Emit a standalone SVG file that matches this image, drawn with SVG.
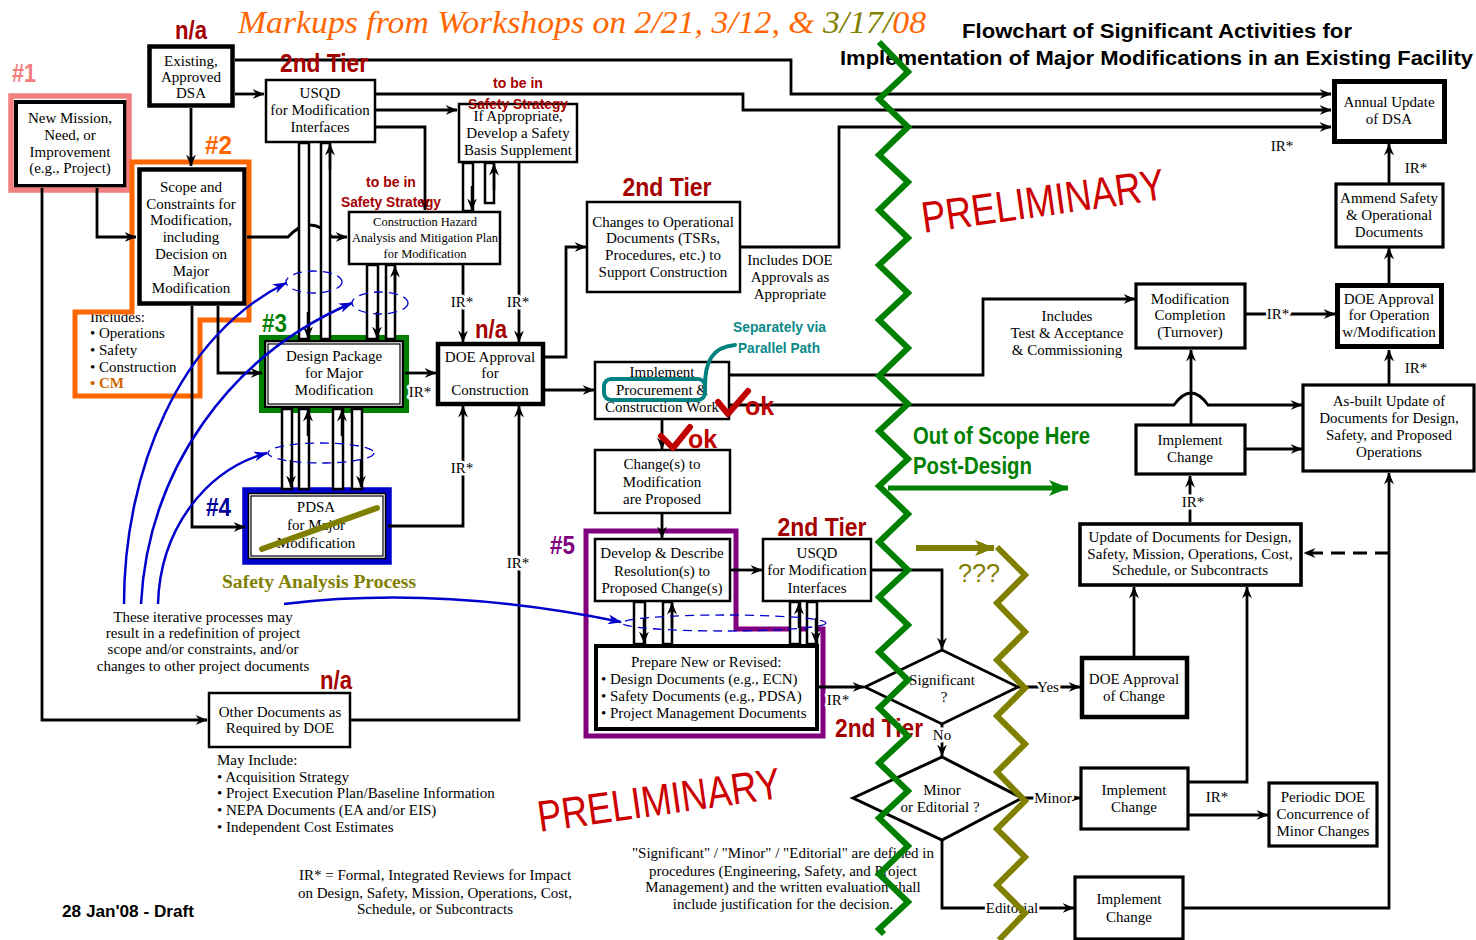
<svg xmlns="http://www.w3.org/2000/svg" width="1476" height="940" viewBox="0 0 1476 940">
<defs>
<style>
.b{fill:#fff;stroke:#000;stroke-width:2.5}
.bm{fill:#fff;stroke:#000;stroke-width:3.2}
.bt{fill:#fff;stroke:#000;stroke-width:4.5}
.t{font-family:"Liberation Serif",serif;font-size:15px;text-anchor:middle;fill:#000}
.tl{font-family:"Liberation Serif",serif;font-size:15px;fill:#000}
.ts{font-family:"Liberation Serif",serif;font-size:12.5px;text-anchor:middle;fill:#000}
.c{fill:none;stroke:#000;stroke-width:2.8}
.lb{font-family:"Liberation Serif",serif;font-size:15px;text-anchor:middle;fill:#000;paint-order:stroke;stroke:#fff;stroke-width:5px;stroke-linejoin:round}
.red{font-family:"Liberation Sans",Arial,sans-serif;font-weight:bold;fill:#a50000;text-anchor:middle}
.dbl{fill:#fff;stroke:#000;stroke-width:2.5}
.blue{fill:none;stroke:#0000cc;stroke-width:2.5}
.ell{fill:none;stroke:#0000cc;stroke-width:1.3;stroke-dasharray:9,6}
.hash{font-family:"Liberation Sans",Arial,sans-serif;font-weight:bold;font-size:26px}
.ok{font-family:"Liberation Sans",Arial,sans-serif;font-weight:bold;font-size:25px;fill:#c00000}
.chk{fill:none;stroke:#c00000;stroke-width:6;stroke-linecap:round;stroke-linejoin:round}
.prelim{font-family:"Liberation Sans",Arial,sans-serif;font-size:44px;fill:#cc0000;text-anchor:middle}
</style>
<marker id="a" viewBox="0 0 12 10" refX="11.5" refY="5" markerWidth="12" markerHeight="10" markerUnits="userSpaceOnUse" orient="auto"><path d="M0,0 L12,5 L0,10 L4,5 Z" fill="#000"/></marker>
<marker id="ab" viewBox="0 0 14 10" refX="13" refY="5" markerWidth="14" markerHeight="10" markerUnits="userSpaceOnUse" orient="auto"><path d="M0,0 L14,5 L0,10 L4,5 Z" fill="#0000cc"/></marker>
<marker id="ag" viewBox="0 0 20 16" refX="19" refY="8" markerWidth="20" markerHeight="16" markerUnits="userSpaceOnUse" orient="auto"><path d="M0,0 L20,8 L0,16 L5,8 Z" fill="#008000"/></marker>
<marker id="ao" viewBox="0 0 20 16" refX="19" refY="8" markerWidth="20" markerHeight="16" markerUnits="userSpaceOnUse" orient="auto"><path d="M0,0 L20,8 L0,16 L5,8 Z" fill="#808000"/></marker>
</defs>
<rect width="1476" height="940" fill="#fff"/>

<!-- Titles -->
<g id="titles">
<text x="238" y="33" font-family="Liberation Serif,serif" font-style="italic" font-size="31" fill="#ff6600" textLength="688" lengthAdjust="spacingAndGlyphs">Markups from Workshops on 2/21, 3/12, &amp; <tspan fill="#808000">3/17/</tspan>08</text>
<text x="962" y="38" font-family="Liberation Sans,Arial,sans-serif" font-weight="bold" font-size="20" textLength="390" lengthAdjust="spacingAndGlyphs">Flowchart of Significant Activities for</text>
<text x="840" y="65" font-family="Liberation Sans,Arial,sans-serif" font-weight="bold" font-size="20" textLength="633" lengthAdjust="spacingAndGlyphs">Implementation of Major Modifications in an Existing Facility</text>
<text x="62" y="917" font-family="Liberation Sans,Arial,sans-serif" font-weight="bold" font-size="16" textLength="132" lengthAdjust="spacingAndGlyphs">28 Jan'08 - Draft</text>
</g>

<!-- Nodes -->
<g id="n-existing-dsa"><rect class="bt" x="149.5" y="46.5" width="83" height="59"/><text class="t"><tspan x="191" y="66">Existing,</tspan><tspan x="191" y="82">Approved</tspan><tspan x="191" y="98">DSA</tspan></text></g>
<g id="n-new-mission"><rect class="bt" x="16" y="102" width="109" height="84" style="stroke-width:4"/><text class="t"><tspan x="70" y="123">New Mission,</tspan><tspan x="70" y="140">Need, or</tspan><tspan x="70" y="157">Improvement</tspan><tspan x="70" y="173">(e.g., Project)</tspan></text></g>
<g id="n-usqd-top"><rect class="b" x="266" y="80" width="109" height="62"/><text class="t"><tspan x="320" y="98">USQD</tspan><tspan x="320" y="115">for Modification</tspan><tspan x="320" y="132">Interfaces</tspan></text></g>
<g id="n-scope"><rect class="bt" x="139.5" y="169.5" width="105" height="134"/><text class="t"><tspan x="191" y="192">Scope and</tspan><tspan x="191" y="209">Constraints for</tspan><tspan x="191" y="225">Modification,</tspan><tspan x="191" y="242">including</tspan><tspan x="191" y="259">Decision on</tspan><tspan x="191" y="276">Major</tspan><tspan x="191" y="293">Modification</tspan></text></g>
<g id="n-includes"><text class="tl"><tspan x="90" y="322">Includes:</tspan><tspan x="90" y="338">• Operations</tspan><tspan x="90" y="355">• Safety</tspan><tspan x="90" y="372">• Construction</tspan><tspan x="90" y="388" fill="#cc6600" font-weight="bold">• CM</tspan></text></g>
<g id="n-champ"><rect class="b" x="349" y="212" width="151" height="52"/><text class="ts"><tspan x="425" y="226">Construction Hazard</tspan><tspan x="425" y="242">Analysis and Mitigation Plan</tspan><tspan x="425" y="258">for Modification</tspan></text></g>
<g id="n-safety-supplement"><rect class="b" x="459" y="104" width="118" height="58"/><text class="t"><tspan x="518" y="121">If Appropriate,</tspan><tspan x="518" y="138">Develop a Safety</tspan><tspan x="518" y="155">Basis Supplement</tspan></text></g>
<g id="n-changes-ops"><rect class="b" x="587" y="202" width="153" height="90"/><text class="t"><tspan x="663" y="227">Changes to Operational</tspan><tspan x="663" y="243">Documents (TSRs,</tspan><tspan x="663" y="260">Procedures, etc.) to</tspan><tspan x="663" y="277">Support Construction</tspan></text></g>
<g id="n-design-package"><rect class="b" x="265" y="341" width="138" height="66"/><rect x="268" y="344" width="132" height="60" fill="none" stroke="#000" stroke-width="1.2"/><text class="t"><tspan x="334" y="361">Design Package</tspan><tspan x="334" y="378">for Major</tspan><tspan x="334" y="395">Modification</tspan></text></g>
<g id="n-doe-construction"><rect class="bt" x="438" y="344" width="105" height="60"/><text class="t"><tspan x="490" y="362">DOE Approval</tspan><tspan x="490" y="378">for</tspan><tspan x="490" y="395">Construction</tspan></text></g>
<g id="n-pdsa"><rect class="b" x="248" y="493" width="138" height="66"/><rect x="251" y="496" width="132" height="60" fill="none" stroke="#000" stroke-width="1.2"/><text class="t"><tspan x="316" y="512">PDSA</tspan><tspan x="316" y="530">for Major</tspan><tspan x="316" y="548">Modification</tspan></text></g>
<g id="n-implement-construction"><rect class="b" x="595" y="362" width="134" height="57"/><text class="t"><tspan x="662" y="377">Implement</tspan><tspan x="662" y="395">Procurement &amp;</tspan><tspan x="662" y="412">Construction Work</tspan></text></g>
<g id="n-changes-proposed"><rect class="b" x="595" y="450" width="135" height="63"/><text class="t"><tspan x="662" y="469">Change(s) to</tspan><tspan x="662" y="487">Modification</tspan><tspan x="662" y="504">are Proposed</tspan></text></g>
<g id="n-develop"><rect class="b" x="595" y="539" width="135" height="62"/><text class="t"><tspan x="662" y="558">Develop &amp; Describe</tspan><tspan x="662" y="576">Resolution(s) to</tspan><tspan x="662" y="593">Proposed Change(s)</tspan></text></g>
<g id="n-usqd-lower"><rect class="b" x="763" y="539" width="108" height="62"/><text class="t"><tspan x="817" y="558">USQD</tspan><tspan x="817" y="575">for Modification</tspan><tspan x="817" y="593">Interfaces</tspan></text></g>
<g id="n-prepare"><rect class="bt" x="596" y="646" width="221" height="83" style="stroke-width:4"/><text class="tl"><tspan x="631" y="667">Prepare New or Revised:</tspan><tspan x="601" y="684">• Design Documents (e.g., ECN)</tspan><tspan x="601" y="701">• Safety Documents (e.g., PDSA)</tspan><tspan x="601" y="718">• Project Management Documents</tspan></text></g>
<g id="n-other-docs"><rect class="b" x="209" y="693" width="141" height="54"/><text class="t"><tspan x="280" y="717">Other Documents as</tspan><tspan x="280" y="733">Required by DOE</tspan></text></g>
<g id="n-may-include"><text class="tl"><tspan x="217" y="765">May Include:</tspan><tspan x="217" y="782">• Acquisition Strategy</tspan><tspan x="217" y="798">• Project Execution Plan/Baseline Information</tspan><tspan x="217" y="815">• NEPA Documents (EA and/or EIS)</tspan><tspan x="217" y="832">• Independent Cost Estimates</tspan></text></g>
<g id="n-significant"><polygon points="865,687 942,650 1018,687 942,724" fill="#fff" stroke="#000" stroke-width="2.8"/><text class="t"><tspan x="942" y="685">Significant</tspan><tspan x="944" y="702">?</tspan></text></g>
<g id="n-minor"><polygon points="853,798 942,757 1022,798 942,840" fill="#fff" stroke="#000" stroke-width="3"/><text class="t"><tspan x="942" y="795">Minor</tspan><tspan x="940" y="812">or Editorial ?</tspan></text></g>
<g id="n-doe-change"><rect class="bt" x="1082" y="658" width="105" height="59"/><text class="t"><tspan x="1134" y="684">DOE Approval</tspan><tspan x="1134" y="701">of Change</tspan></text></g>
<g id="n-implement-minor"><rect class="bm" x="1081" y="768" width="107" height="61"/><text class="t"><tspan x="1134" y="795">Implement</tspan><tspan x="1134" y="812">Change</tspan></text></g>
<g id="n-periodic"><rect class="bm" x="1269" y="783" width="108" height="63"/><text class="t"><tspan x="1323" y="802">Periodic DOE</tspan><tspan x="1323" y="819">Concurrence of</tspan><tspan x="1323" y="836">Minor Changes</tspan></text></g>
<g id="n-implement-editorial"><rect class="bm" x="1075" y="877" width="108" height="62"/><text class="t"><tspan x="1129" y="904">Implement</tspan><tspan x="1129" y="922">Change</tspan></text></g>
<g id="n-update-docs"><rect class="bm" x="1080" y="524" width="221" height="61" style="stroke-width:3.6"/><text class="t"><tspan x="1190" y="542">Update of Documents for Design,</tspan><tspan x="1190" y="559">Safety, Mission, Operations, Cost,</tspan><tspan x="1190" y="575">Schedule, or Subcontracts</tspan></text></g>
<g id="n-mod-completion"><rect class="bm" x="1136" y="284" width="109" height="64"/><text class="t"><tspan x="1190" y="304">Modification</tspan><tspan x="1190" y="320">Completion</tspan><tspan x="1190" y="337">(Turnover)</tspan></text></g>
<g id="n-doe-operation"><rect class="bt" x="1337.5" y="285.5" width="104" height="61" style="stroke-width:5"/><text class="t"><tspan x="1389" y="304">DOE Approval</tspan><tspan x="1389" y="320">for Operation</tspan><tspan x="1389" y="337">w/Modification</tspan></text></g>
<g id="n-asbuilt"><rect class="bm" x="1303" y="385" width="171" height="86"/><text class="t"><tspan x="1389" y="406">As-built Update of</tspan><tspan x="1389" y="423">Documents for Design,</tspan><tspan x="1389" y="440">Safety, and Proposed</tspan><tspan x="1389" y="457">Operations</tspan></text></g>
<g id="n-implement-mid"><rect class="bm" x="1136" y="425" width="109" height="49"/><text class="t"><tspan x="1190" y="445">Implement</tspan><tspan x="1190" y="462">Change</tspan></text></g>
<g id="n-ammend"><rect class="bm" x="1336" y="184" width="107" height="63"/><text class="t"><tspan x="1389" y="203">Ammend Safety</tspan><tspan x="1389" y="220">&amp; Operational</tspan><tspan x="1389" y="237">Documents</tspan></text></g>
<g id="n-annual"><rect class="bt" x="1334.5" y="81.5" width="110" height="60" style="stroke-width:5"/><text class="t"><tspan x="1389" y="107">Annual Update</tspan><tspan x="1389" y="124">of DSA</tspan></text></g>

<!-- Highlight frames -->
<g id="highlights" fill="none">
<rect x="11" y="96" width="118" height="94" stroke="#f08080" stroke-width="5.5"/>
<path d="M132,162 H249 V320 H200 V396 H75 V312 H132 Z" stroke="#ff6600" stroke-width="5"/>
<rect x="261.5" y="337.5" width="145" height="73" stroke="#008000" stroke-width="5"/>
<rect x="245" y="490" width="144" height="72" stroke="#0000cc" stroke-width="5.5"/>
<path d="M586,531 H736 V629 H823 V736 H586 Z" stroke="#800080" stroke-width="5"/>
</g>

<!-- Connectors -->
<g id="connectors" class="c" marker-end="url(#a)">
<path d="M42,188 V720 H207"/>
<path d="M97,188 V237 H136"/>
<path d="M191,108 V166"/>
<path d="M235,94 H264"/>
<path d="M235,60 H791 V94 H1331"/>
<path d="M376,94 H743 V110 H1331"/>
<path d="M376,110 H457"/>
<path d="M376,127 H425 V210"/>
<path d="M247,237 H288 Q310,213 332,237 H347"/>
<path d="M218,306 V373 H262"/>
<path d="M192,306 V527 H245"/>
<path d="M405,373 H436"/>
<path d="M463,265 V342"/>
<path d="M519,163 V342"/>
<path d="M388,526 H463 V406"/>
<path d="M351,720 H519 V406"/>
<path d="M545,357 H566 V247 H586"/>
<path d="M545,390 H594"/>
<path d="M741,247 H839 V127 H1331"/>
<path d="M730,375 H983 V299 H1135"/>
<path d="M730,405 H1174 Q1191,381 1208,405 H1302"/>
<path d="M662,420 V449"/>
<path d="M662,514 V538"/>
<path d="M731,570 H762"/>
<path d="M872,570 H942 V649"/>
<path d="M819,687 H864"/>
<path d="M942,724 V756"/>
<path d="M1018,687 H1080"/>
<path d="M1022,798 H1080"/>
<path d="M942,840 V908 H1074"/>
<path d="M1134,656 V587"/>
<path d="M1189,782 H1247 V587"/>
<path d="M1189,815 H1268"/>
<path d="M1184,908 H1389 V473"/>
<path d="M1389,553 H1304" stroke-dasharray="14,8"/>
<path d="M1190,522 V476"/>
<path d="M1191,424 V350"/>
<path d="M1246,449 H1302"/>
<path d="M1246,314 H1335"/>
<path d="M1389,384 V350"/>
<path d="M1389,283 V248"/>
<path d="M1389,183 V144"/>
</g>

<!-- Double-line iterative connectors -->
<g id="iterative-links">
<rect class="dbl" x="299" y="143" width="10" height="196"/>
<rect class="dbl" x="321" y="143" width="9" height="196"/>
<rect class="dbl" x="367" y="265" width="11" height="74"/>
<rect class="dbl" x="386" y="265" width="9" height="74"/>
<rect class="dbl" x="463" y="163" width="10" height="48"/>
<rect class="dbl" x="485" y="163" width="9" height="40"/>
<rect class="dbl" x="282" y="409" width="10" height="80"/>
<rect class="dbl" x="299" y="409" width="10" height="80"/>
<rect class="dbl" x="333" y="409" width="10" height="80"/>
<rect class="dbl" x="352" y="409" width="10" height="80"/>
<rect class="dbl" x="634" y="602" width="11" height="42"/>
<rect class="dbl" x="663" y="602" width="9" height="42"/>
<rect class="dbl" x="790" y="602" width="10" height="42"/>
<rect class="dbl" x="807" y="602" width="10" height="42"/>
<g class="c" marker-end="url(#a)" style="stroke-width:2.5">
<path d="M308,312 V338"/>
<path d="M330,170 V144"/>
<path d="M377,312 V338"/>
<path d="M395,292 V266"/>
<path d="M472,186 V210"/>
<path d="M494,190 V164"/>
<path d="M291,460 V487"/>
<path d="M308,436 V410"/>
<path d="M342,436 V410"/>
<path d="M361,460 V487"/>
<path d="M644,618 V643"/>
<path d="M672,628 V603"/>
<path d="M799,628 V603"/>
<path d="M816,618 V643"/>
</g>
</g>

<!-- Blue iteration markup -->
<g id="iteration-markup">
<ellipse class="ell" cx="314" cy="282" rx="28" ry="11"/>
<ellipse class="ell" cx="380" cy="303" rx="28" ry="11"/>
<ellipse class="ell" cx="321" cy="453" rx="53" ry="10"/>
<ellipse class="ell" cx="724" cy="623" rx="102" ry="8"/>
<g class="blue" marker-end="url(#ab)">
<path d="M124,604 C124,470 180,335 286,283"/>
<path d="M141,604 C148,470 230,355 352,303"/>
<path d="M158,604 C160,530 205,470 267,453"/>
<path d="M284,604 Q440,585 621,622"/>
</g>
</g>

<!-- Connector labels -->
<g id="labels">
<text class="lb" x="1282" y="151">IR*</text>
<text class="lb" x="1416" y="173">IR*</text>
<text class="lb" x="1278" y="319">IR*</text>
<text class="lb" x="1416" y="373">IR*</text>
<text class="lb" x="1193" y="507">IR*</text>
<text class="lb" x="1217" y="802">IR*</text>
<text class="lb" x="838" y="705">IR*</text>
<text class="lb" x="462" y="307">IR*</text>
<text class="lb" x="518" y="307">IR*</text>
<text class="lb" x="420" y="397">IR*</text>
<text class="lb" x="462" y="473">IR*</text>
<text class="lb" x="518" y="568">IR*</text>
<text class="lb" x="1048" y="692">Yes</text>
<text class="lb" x="1053" y="803">Minor</text>
<text class="lb" x="1012" y="913">Editorial</text>
<text class="lb" x="942" y="740">No</text>
</g>

<!-- Notes -->
<g id="notes">
<text class="t"><tspan x="790" y="265">Includes DOE</tspan><tspan x="790" y="282">Approvals as</tspan><tspan x="790" y="299">Appropriate</tspan></text>
<text class="t"><tspan x="1067" y="321">Includes</tspan><tspan x="1067" y="338">Test &amp; Acceptance</tspan><tspan x="1067" y="355">&amp; Commissioning</tspan></text>
<text class="t"><tspan x="203" y="622">These iterative processes may</tspan><tspan x="203" y="638">result in a redefinition of project</tspan><tspan x="203" y="654">scope and/or constraints, and/or</tspan><tspan x="203" y="671">changes to other project documents</tspan></text>
<text class="t"><tspan x="435" y="880">IR* = Formal, Integrated Reviews for Impact</tspan><tspan x="435" y="898">on Design, Safety, Mission, Operations, Cost,</tspan><tspan x="435" y="914">Schedule, or Subcontracts</tspan></text>
<text class="t"><tspan x="783" y="858">"Significant" / "Minor" / "Editorial" are defined in</tspan><tspan x="783" y="876">procedures (Engineering, Safety, and Project</tspan><tspan x="783" y="892">Management) and the written evaluation shall</tspan><tspan x="783" y="909">include justification for the decision.</tspan></text>
<text x="319" y="588" font-family="Liberation Serif,serif" font-weight="bold" font-size="18" fill="#808000" text-anchor="middle" textLength="194" lengthAdjust="spacingAndGlyphs">Safety Analysis Process</text>
</g>

<!-- Red / colour markups -->
<g id="markups">
<text class="red" x="191" y="39" font-size="26" textLength="32" lengthAdjust="spacingAndGlyphs">n/a</text>
<text class="red" x="491" y="338" font-size="26" textLength="32" lengthAdjust="spacingAndGlyphs">n/a</text>
<text class="red" x="336" y="689" font-size="26" textLength="32" lengthAdjust="spacingAndGlyphs">n/a</text>
<text class="red" x="324" y="72" font-size="26" textLength="88" lengthAdjust="spacingAndGlyphs">2nd Tier</text>
<text class="red" x="667" y="196" font-size="26" textLength="89" lengthAdjust="spacingAndGlyphs">2nd Tier</text>
<text class="red" x="822" y="536" font-size="26" textLength="89" lengthAdjust="spacingAndGlyphs">2nd Tier</text>
<text class="red" x="879" y="737" font-size="26" textLength="88" lengthAdjust="spacingAndGlyphs">2nd Tier</text>
<text class="red" x="518" y="88" font-size="14">to be in</text>
<text class="red" x="518" y="109" font-size="14" textLength="100" lengthAdjust="spacingAndGlyphs">Safety Strategy</text>
<text class="red" x="391" y="187" font-size="14">to be in</text>
<text class="red" x="391" y="207" font-size="14" textLength="100" lengthAdjust="spacingAndGlyphs">Safety Strategy</text>
<text class="hash" x="12" y="82" fill="#f47c7c" textLength="24" lengthAdjust="spacingAndGlyphs">#1</text>
<text class="hash" x="205" y="154" fill="#ff6600" textLength="27" lengthAdjust="spacingAndGlyphs">#2</text>
<text class="hash" x="262" y="332" fill="#008000" textLength="25" lengthAdjust="spacingAndGlyphs">#3</text>
<text class="hash" x="206" y="516" fill="#000099" textLength="25" lengthAdjust="spacingAndGlyphs">#4</text>
<text class="hash" x="550" y="554" fill="#800080" textLength="25" lengthAdjust="spacingAndGlyphs">#5</text>
<line x1="262" y1="549" x2="377" y2="508" stroke="#808000" stroke-width="6" stroke-linecap="round"/>
<rect x="604" y="379" width="101" height="21" rx="7" fill="none" stroke="#008080" stroke-width="4"/>
<path d="M705,386 C705,362 712,347 735,345" fill="none" stroke="#008080" stroke-width="4" stroke-linecap="round"/>
<text x="733" y="332" font-family="Liberation Sans,Arial,sans-serif" font-weight="bold" font-size="15" fill="#0a8a8a" textLength="93" lengthAdjust="spacingAndGlyphs">Separately via</text>
<text x="738" y="353" font-family="Liberation Sans,Arial,sans-serif" font-weight="bold" font-size="15" fill="#0a8a8a" textLength="82" lengthAdjust="spacingAndGlyphs">Parallel Path</text>
<polyline class="chk" points="718,402 728,414 748,391"/>
<text class="ok" x="745" y="415">ok</text>
<polyline class="chk" points="661,436 673,448 690,427"/>
<text class="ok" x="688" y="448">ok</text>
<text class="prelim" x="1045" y="216" transform="rotate(-8 1045 216)" textLength="245" lengthAdjust="spacingAndGlyphs">PRELIMINARY</text>
<text class="prelim" x="661" y="815" transform="rotate(-8 661 815)" textLength="245" lengthAdjust="spacingAndGlyphs">PRELIMINARY</text>
<text x="913" y="444" font-family="Liberation Sans,Arial,sans-serif" font-weight="bold" font-size="23" fill="#008000" textLength="177" lengthAdjust="spacingAndGlyphs">Out of Scope Here</text>
<text x="913" y="474" font-family="Liberation Sans,Arial,sans-serif" font-weight="bold" font-size="23" fill="#008000" textLength="119" lengthAdjust="spacingAndGlyphs">Post-Design</text>
<text x="958" y="582" font-family="Liberation Sans,Arial,sans-serif" font-size="26" fill="#808000" textLength="42" lengthAdjust="spacingAndGlyphs">???</text>
</g>

<!-- Scope boundary lines -->
<g id="boundaries" fill="none" stroke-linejoin="miter">
<path d="M888,488 H1068" stroke="#008000" stroke-width="5" marker-end="url(#ag)"/>
<path d="M916,548 H994" stroke="#808000" stroke-width="6" marker-end="url(#ao)"/>
<path d="M879,42 L908,72 L879,99 L908,127 L879,155 L908,182 L879,210 L908,238 L879,265 L908,293 L879,320 L908,348 L879,376 L908,404 L879,431 L908,459 L879,486 L908,514 L879,542 L908,570 L879,597 L908,625 L879,652 L908,680 L879,708 L908,736 L879,763 L908,791 L879,818 L908,846 L879,874 L908,902 L879,929 L884,934" stroke="#008000" stroke-width="6"/>
<path d="M997,547 L1025,575 L997,603 L1025,632 L997,660 L1025,688 L997,716 L1025,744 L997,772 L1025,801 L997,829 L1025,857 L997,885 L1025,913 L999,940" stroke="#808000" stroke-width="6"/>
</g>
</svg>
